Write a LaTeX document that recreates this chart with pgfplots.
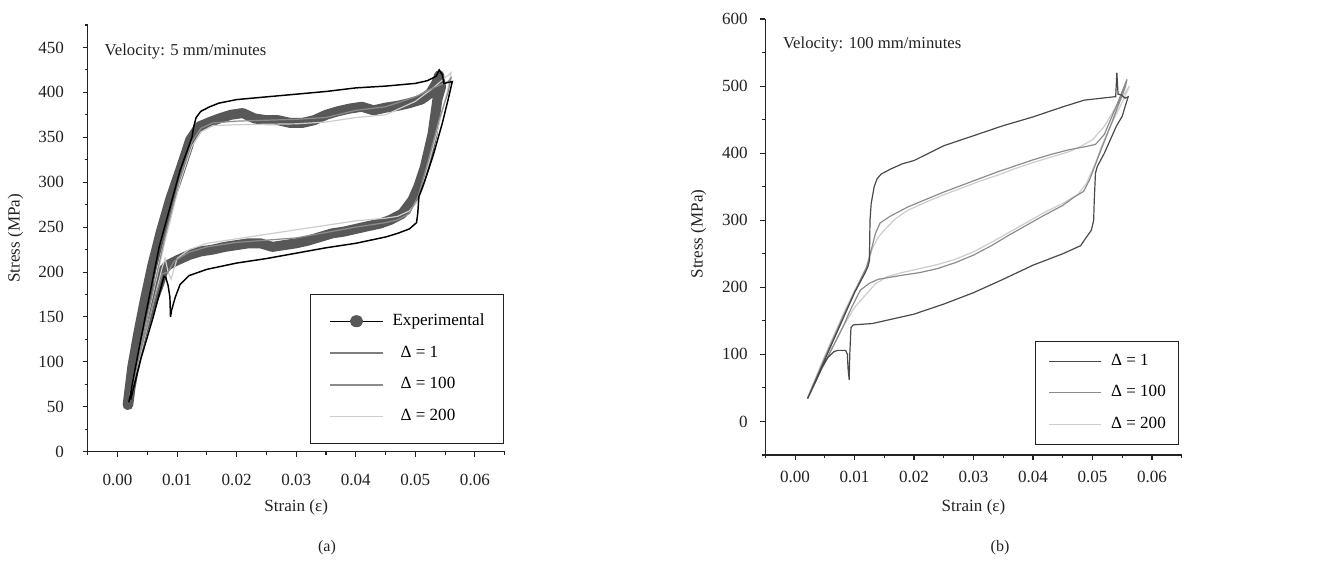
\documentclass[border=0pt]{standalone}
\usepackage{fontspec}
\setmainfont{Liberation Serif}
\usepackage{pgfplots}
\pgfplotsset{compat=1.18}
\definecolor{expgray}{HTML}{585858}
\definecolor{dOne}{HTML}{4A4A4A}
\definecolor{dHund}{HTML}{8C8C8C}
\definecolor{dTwo}{HTML}{CDCDCD}
\definecolor{axcol}{HTML}{222222}
\pgfplotsset{
  panel/.style={
    scale only axis,
    axis x line=bottom, axis y line=left,
    axis line style={-, line width=0.8pt, axcol},
    tick align=outside,
    major tick length=3.75pt, minor tick length=2.25pt,
    every tick/.style={line width=0.8pt, axcol},
    xmin=-0.005, xmax=0.065,
    xtick={0,0.01,0.02,0.03,0.04,0.05,0.06},
    xticklabels={0.00,0.01,0.02,0.03,0.04,0.05,0.06},
    minor xtick={-0.005,0.005,0.015,0.025,0.035,0.045,0.055,0.065},
    scaled x ticks=false,
    /pgf/number format/assume math mode=true,
    ticklabel style={font=\fontsize{12.8}{15}\selectfont, text=axcol},
    label style={font=\fontsize{12.8}{15}\selectfont, text=axcol},
    xlabel={Strain (ε)},
    ylabel={Stress (MPa)},
  },
}
\begin{document}
\begin{tikzpicture}[font=\fontsize{12.5}{15}\selectfont]
\path[use as bounding box] (0pt,0pt) rectangle (998.25pt,423pt);

% ---------------- (a) ----------------
\begin{axis}[panel,
  at={(65.78pt,84.23pt)}, anchor=south west,
  width=312.75pt, height=320pt,
  ymin=0, ymax=475,
  ytick={0,50,100,150,200,250,300,350,400,450},
  minor ytick={25,75,125,175,225,275,325,375,425,475},
  xticklabel style={yshift=-9.6pt},
  yticklabel style={xshift=-10.5pt},
  xlabel style={at={(axis description cs:0.5,-0.1305)}, anchor=center},
  ylabel style={at={(axis description cs:-0.173,0.5)}, anchor=center},
  legend style={at={(0.9976,0.018)}, anchor=south east, draw=axcol, line width=0.8pt,
    inner xsep=14pt, inner ysep=14.5pt, row sep=12.9pt, column sep=6.75pt,
    cells={anchor=west}, nodes={inner sep=0pt, text height=8.5pt, text depth=2.5pt},
    font=\fontsize{12.8}{15}\selectfont},
]
% experimental (thick band)
\addplot[forget plot, expgray, line width=7.5pt, line join=round, line cap=round] coordinates {
(0.0017,52) (0.0025,95) (0.0035,132) (0.0046,169) (0.0058,206) (0.0072,243) (0.0088,280)
(0.0107,317) (0.0122,347) (0.0137,362) (0.0155,367) (0.0171,371) (0.019,375) (0.021,377)
(0.023,371) (0.025,369) (0.027,369) (0.029,366) (0.031,366) (0.033,369) (0.035,375)
(0.037,379) (0.039,382) (0.041,384) (0.043,380) (0.045,383) (0.047,385) (0.049,388)
(0.051,392) (0.0525,399) (0.0535,410) (0.054,419)
(0.0543,406) (0.0537,392) (0.0529,354) (0.0516,317) (0.0505,295) (0.0495,280) (0.0478,265)
(0.0458,258) (0.0441,254) (0.042,251) (0.040,248) (0.038,245) (0.036,243) (0.034,239)
(0.032,235) (0.030,232) (0.028,230) (0.026,228) (0.024,232) (0.022,232) (0.020,230)
(0.018,228) (0.016,225) (0.014,223) (0.012,219) (0.010,213) (0.0085,208) (0.0077,202)
(0.007,187) (0.006,169) (0.005,150) (0.004,128) (0.003,102) (0.0022,72) (0.0018,52)
};
% Delta = 200 (light)
\addplot[forget plot, dTwo, line width=0.9pt] coordinates {
(0.002,60) (0.005,148) (0.008,235) (0.0105,300) (0.0125,340) (0.014,356) (0.016,363)
(0.02,364) (0.03,365) (0.035,367) (0.04,372) (0.045,375) (0.05,390) (0.053,405) (0.056,422)
(0.0555,405) (0.054,365) (0.052,315) (0.0505,280) (0.049,268) (0.047,262) (0.045,260)
(0.04,257) (0.035,252) (0.03,247) (0.025,242) (0.02,237) (0.015,232) (0.012,225)
(0.010,215) (0.009,192) (0.0085,200) (0.008,215) (0.0075,205) (0.006,165) (0.004,112) (0.002,62)
};
% Delta = 100 (medium)
\addplot[forget plot, dHund, line width=0.9pt] coordinates {
(0.002,58) (0.005,150) (0.008,240) (0.0105,305) (0.0125,345) (0.014,360) (0.016,366)
(0.02,368) (0.03,370) (0.035,372) (0.04,380) (0.045,384) (0.05,395) (0.053,405) (0.0555,412)
(0.056,416) (0.0555,400) (0.054,370) (0.052,320) (0.0505,285) (0.049,265) (0.047,258)
(0.045,255) (0.04,250) (0.03,238) (0.02,233) (0.015,228) (0.012,222) (0.0095,212)
(0.0085,200) (0.0075,198) (0.006,165) (0.004,115) (0.002,60)
};
% outer black loop
\addplot[forget plot, black, line width=1.1pt] coordinates {
(0.0019,55) (0.004,128) (0.007,228) (0.0105,313) (0.0125,350) (0.0128,362) (0.0132,372)
(0.014,379) (0.0155,384) (0.017,388) (0.02,392) (0.025,395) (0.03,398) (0.035,401)
(0.04,405) (0.045,407) (0.05,410) (0.052,413) (0.0535,418) (0.054,425) (0.0545,420)
(0.0548,410) (0.0562,412) (0.0555,392) (0.0545,365) (0.053,330) (0.0515,300) (0.0506,284)
(0.0504,265) (0.0502,255) (0.049,248) (0.047,243) (0.045,239) (0.04,232) (0.035,227)
(0.03,221) (0.025,215) (0.02,210) (0.015,203) (0.012,196) (0.0105,186) (0.0097,172)
(0.0091,158) (0.0089,150) (0.0088,172) (0.0085,185) (0.0081,194) (0.0078,195)
(0.0072,180) (0.006,150) (0.004,105) (0.0022,58)
};
\addlegendimage{legend image code/.code={
  \draw[black, line width=0.9pt] (0pt,0pt) -- (39.75pt,0pt);
  \fill[expgray] (19.9pt,0pt) ellipse (4.6pt and 4.1pt);}}
\addlegendentry{Experimental}
\addlegendimage{legend image code/.code={\draw[dHund!90!black, line width=0.9pt] (0pt,0pt) -- (39.75pt,0pt);}}
\addlegendentry{\hspace*{6pt}Δ = 1}
\addlegendimage{legend image code/.code={\draw[dHund, line width=0.9pt] (0pt,0pt) -- (39.75pt,0pt);}}
\addlegendentry{\hspace*{6pt}Δ = 100}
\addlegendimage{legend image code/.code={\draw[dTwo, line width=0.9pt] (0pt,0pt) -- (39.75pt,0pt);}}
\addlegendentry{\hspace*{6pt}Δ = 200}
\node[anchor=west, text=axcol] at (rel axis cs:0.0295,0.9374) {Velocity: 5 mm/minutes};
\end{axis}

% ---------------- (b) ----------------
\begin{axis}[panel,
  at={(573.98pt,81.75pt)}, anchor=south west,
  width=312.3pt, height=327pt,
  ymin=-50, ymax=600,
  ytick={0,100,200,300,400,500,600},
  minor ytick={-50,50,150,250,350,450,550},
  xticklabel style={yshift=-5pt},
  yticklabel style={xshift=-6pt},
  xlabel style={at={(axis description cs:0.5,-0.1193)}, anchor=center},
  ylabel style={at={(axis description cs:-0.1604,0.507)}, anchor=center},
  legend style={at={(0.9935,0.0229)}, anchor=south east, draw=axcol, line width=0.8pt,
    inner xsep=9.5pt, inner ysep=9.4pt, row sep=12.8pt, column sep=7.3pt,
    cells={anchor=west}, nodes={inner sep=0pt, text height=8.5pt, text depth=2.5pt},
    font=\fontsize{12.8}{15}\selectfont},
]
% Delta = 200
\addplot[forget plot, dTwo, line width=0.9pt] coordinates {
(0.0021,36) (0.005,98) (0.008,158) (0.010,195) (0.012,228) (0.013,258) (0.014,275)
(0.0155,290) (0.017,303) (0.019,315) (0.022,327) (0.025,338) (0.028,348) (0.031,358)
(0.034,367) (0.037,377) (0.040,386) (0.043,394) (0.046,402) (0.048,410) (0.050,420)
(0.052,440) (0.054,470) (0.0562,500)
(0.0555,485) (0.053,440) (0.0515,410) (0.0505,385) (0.049,355) (0.0475,338) (0.045,325)
(0.042,312) (0.039,297) (0.036,282) (0.033,267) (0.030,253) (0.027,242) (0.024,234)
(0.021,228) (0.018,222) (0.0155,216) (0.0135,205) (0.012,190) (0.010,170) (0.008,140)
(0.006,105) (0.004,72) (0.0021,36)
};
% Delta = 100
\addplot[forget plot, dHund, line width=0.9pt] coordinates {
(0.0021,34) (0.005,95) (0.008,155) (0.010,193) (0.012,230) (0.0128,255) (0.0135,280)
(0.0143,296) (0.016,306) (0.019,320) (0.022,331) (0.025,342) (0.028,352) (0.031,362)
(0.034,372) (0.037,381) (0.040,390) (0.043,398) (0.046,405) (0.049,410) (0.0505,413)
(0.052,428) (0.054,470) (0.0558,510)
(0.0555,498) (0.053,440) (0.051,395) (0.0495,360) (0.0485,343) (0.047,335) (0.045,322)
(0.042,308) (0.039,293) (0.036,278) (0.033,262) (0.030,248) (0.027,237) (0.024,228)
(0.021,222) (0.018,218) (0.016,215) (0.014,212) (0.0125,206) (0.011,196) (0.0095,170)
(0.008,140) (0.006,105) (0.004,70) (0.0021,34)
};
% Delta = 1
\addplot[forget plot, dOne, line width=0.9pt] coordinates {
(0.0021,34) (0.004,72) (0.006,112) (0.008,152) (0.010,192) (0.0118,222) (0.0123,232)
(0.0125,240) (0.0126,300) (0.0128,325) (0.013,335) (0.0133,350) (0.0138,362) (0.0145,369)
(0.016,376) (0.018,384) (0.020,389) (0.025,411) (0.030,426) (0.035,441) (0.040,454)
(0.045,469) (0.0486,479) (0.0536,484) (0.0539,484) (0.0541,520) (0.0543,488)
(0.0548,487) (0.0555,482) (0.056,484)
(0.0555,470) (0.055,455) (0.054,440) (0.053,420) (0.052,400) (0.0508,380) (0.0505,370)
(0.0503,330) (0.0502,300) (0.0498,285) (0.049,275) (0.048,262) (0.045,250) (0.040,233)
(0.035,212) (0.030,192) (0.025,175) (0.020,160) (0.015,150) (0.013,146) (0.0098,144)
(0.0094,140) (0.0092,100) (0.0091,62) (0.0089,80) (0.0088,100) (0.0085,106) (0.0072,106)
(0.0065,104) (0.0055,95) (0.0045,80) (0.0035,60) (0.0021,34)
};
\addlegendimage{legend image code/.code={\draw[dOne, line width=0.9pt] (0pt,0pt) -- (38.7pt,0pt);}}
\addlegendentry{Δ = 1}
\addlegendimage{legend image code/.code={\draw[dHund, line width=0.9pt] (0pt,0pt) -- (38.7pt,0pt);}}
\addlegendentry{Δ = 100}
\addlegendimage{legend image code/.code={\draw[dTwo, line width=0.9pt] (0pt,0pt) -- (38.7pt,0pt);}}
\addlegendentry{Δ = 200}
\node[anchor=west, text=axcol] at (rel axis cs:0.0312,0.9404) {Velocity: 100 mm/minutes};
\end{axis}

\node[text=axcol, font=\fontsize{12}{14}\selectfont] at (245.25pt,12pt) {(a)};
\node[text=axcol, font=\fontsize{12}{14}\selectfont] at (750pt,12pt) {(b)};
\end{tikzpicture}
\end{document}
